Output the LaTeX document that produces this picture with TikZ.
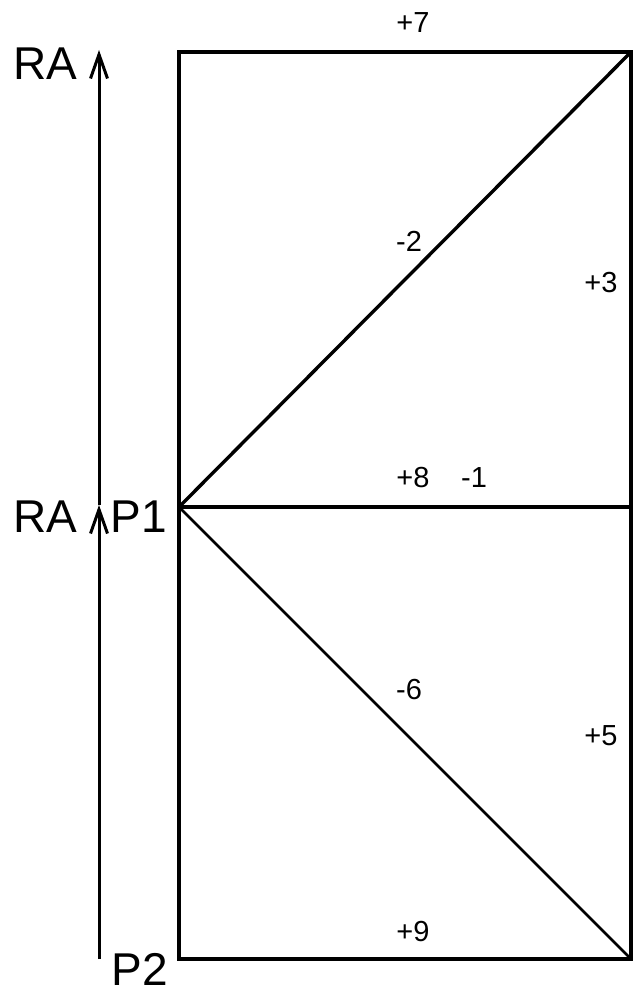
\documentclass[tikz,border=0pt]{standalone}
\usepackage{fontspec}
\setmainfont{Liberation Sans}
\usetikzlibrary{arrows.meta}
\begin{document}
\begin{tikzpicture}[x=1pt,y=-1pt,
  edge/.style={line width=3.4pt},
  thinedge/.style={line width=2.6pt},
  vec/.style={line width=3pt,-{Straight Barb[length=24pt,width=17pt,line width=3pt]}},
  big/.style={inner sep=0pt,font=\fontsize{46}{46}\selectfont},
  small/.style={inner sep=0pt,font=\fontsize{29}{29}\selectfont}]
\useasboundingbox (0,0) rectangle (634,990);
\coordinate (TL) at (179,52);
\coordinate (TR) at (631,52);
\coordinate (ML) at (179,507);
\coordinate (MR) at (631,507);
\coordinate (BL) at (179,959);
\coordinate (BR) at (631,959);
\coordinate (A0) at (99,959);
\coordinate (A1) at (99,505);
\coordinate (A2) at (99,50);
\draw[edge,line join=miter] (ML) -- (TL) -- (TR) -- (MR);
\draw[edge] (ML) -- (MR);
\draw[edge] (ML) -- (TR);
\draw[edge] (ML) -- (BL) -- (BR) -- (MR);
\draw[thinedge] (ML) -- (BR);
\draw[vec] (A0) -- (A1);
\draw[vec] (A1) -- (A2);
\node[big] (ra1) at (45,64) {RA};
\node[big] (ra2) at (45,517) {RA};
\node[big] (p1) at (139,517) {P1};
\node[big] (p2) at (140,969) {P2};
\node[small] (l7) at (413,23) {+7};
\node[small] (l2) at (409,241) {-2};
\node[small] (l3) at (601,283) {+3};
\node[small] (l8) at (413,478) {+8};
\node[small] (l1) at (474,478) {-1};
\node[small] (l6) at (409,690) {-6};
\node[small] (l5) at (601,736) {+5};
\node[small] (l9) at (413,932) {+9};
\end{tikzpicture}
\end{document}
